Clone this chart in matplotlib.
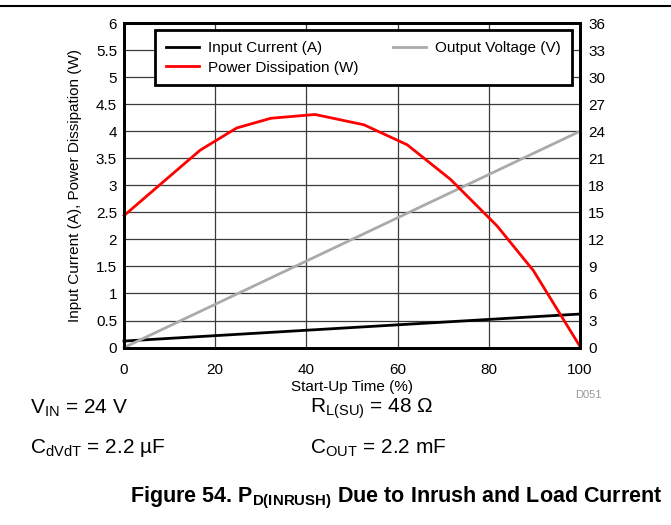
import matplotlib.pyplot as plt
import matplotlib.lines as mlines

plt.rcParams['font.family'] = ['Liberation Sans', 'DejaVu Sans']
plt.rcParams['mathtext.fontset'] = 'custom'
plt.rcParams['mathtext.rm'] = 'Liberation Sans'
plt.rcParams['mathtext.bf'] = 'Liberation Sans:bold'

# data
time_pct = [0, 8, 16.7, 24.7, 32.2, 41.9, 52.6, 62.1, 71.6, 81.8, 89.8, 100]
power_w = [2.44, 3.02, 3.65, 4.06, 4.24, 4.31, 4.12, 3.75, 3.11, 2.25, 1.42, 0.02]
cur_time = [0, 20, 40, 60, 80, 100]
current_a = [0.12, 0.22, 0.32, 0.42, 0.52, 0.62]
volt_time = [0, 100]
voltage_v = [0, 24]

left_ticks = [0, 0.5, 1, 1.5, 2, 2.5, 3, 3.5, 4, 4.5, 5, 5.5, 6]
left_labels = ['0', '0.5', '1', '1.5', '2', '2.5', '3', '3.5', '4', '4.5', '5', '5.5', '6']
right_ticks = [0, 3, 6, 9, 12, 15, 18, 21, 24, 27, 30, 33, 36]
x_ticks = [0, 20, 40, 60, 80, 100]

fig = plt.figure(figsize=(6.71, 5.25), dpi=100)
ax = fig.add_axes([0.1848, 0.338, 0.6796, 0.618])
ax2 = ax.twinx()

ax.set_xlim(0, 100)
ax.set_ylim(0, 6)
ax2.set_ylim(0, 36)
ax.set_xticks(x_ticks)
ax.set_yticks(left_ticks)
ax.set_yticklabels(left_labels)
ax2.set_yticks(right_ticks)
ax.tick_params(axis='y', length=0, labelsize=11, pad=5)
ax.tick_params(axis='x', length=0, labelsize=11, pad=11)
ax2.tick_params(length=0, labelsize=11, pad=6)
ax.grid(True, color='#3a3a3a', lw=0.9)
ax.set_axisbelow(True)

for a in (ax, ax2):
    for s in a.spines.values():
        s.set_linewidth(2)
        s.set_color('black')

# power is drawn on the right axis so it sits above the voltage line; 1 W = 6 units there
power_scaled = [p * 6 for p in power_w]
ax.plot(cur_time, current_a, color='black', lw=2, zorder=4, clip_on=False)
ax2.plot(volt_time, voltage_v, color='#aaaaaa', lw=2, clip_on=False)
ax2.plot(time_pct, power_scaled, color='#ff0000', lw=2, clip_on=False)

ax.set_xlabel('Start-Up Time (%)', fontsize=11, labelpad=2)
ax.set_ylabel('Input Current (A), Power Dissipation (W)', fontsize=11, labelpad=10)

h1 = mlines.Line2D([], [], color='black', lw=2)
h2 = mlines.Line2D([], [], color='#ff0000', lw=2)
h3 = mlines.Line2D([], [], color='#aaaaaa', lw=2)
leg = ax2.legend([h1, h2, h3], ['Input Current (A)', 'Power Dissipation (W)', 'Output Voltage (V)'],
                 ncol=2, loc='upper right', bbox_to_anchor=(0.982, 0.978), fontsize=11,
                 frameon=True, fancybox=False, framealpha=1, edgecolor='black',
                 handlelength=2.2, handletextpad=0.6, columnspacing=2.2,
                 labelspacing=0.38, borderpad=0.7, borderaxespad=0)
leg.get_frame().set_linewidth(2)

fig.text(0.857, 0.247, 'D051', color='#999999', fontsize=8, ha='left', va='center')
fig.text(0.045, 0.222, r'V$_{\mathregular{IN}}$ = 24 V', fontsize=15, va='center')
fig.text(0.045, 0.147, r'C$_{\mathregular{dVdT}}$ = 2.2 µF', fontsize=15, va='center')
fig.text(0.462, 0.222, r'R$_{\mathregular{L(SU)}}$ = 48 Ω', fontsize=15, va='center')
fig.text(0.462, 0.147, r'C$_{\mathregular{OUT}}$ = 2.2 mF', fontsize=15, va='center')
fig.text(0.59, 0.052, r'Figure 54. P$_{\mathbf{D(INRUSH)}}$ Due to Inrush and Load Current',
         fontsize=15.5, fontweight='bold', ha='center', va='center')

fig.add_artist(mlines.Line2D([0, 1], [0.988, 0.988], color='black', lw=1.5, transform=fig.transFigure))

fig.savefig('out.png', dpi=100)
